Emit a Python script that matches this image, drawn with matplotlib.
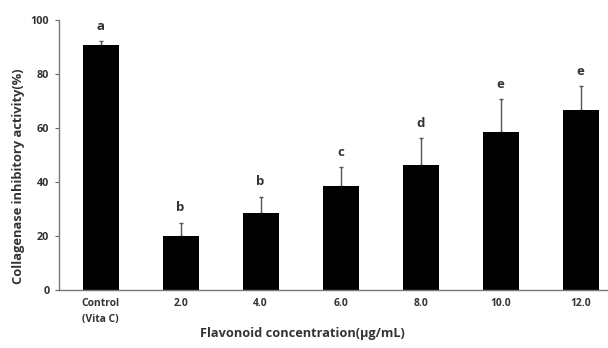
import matplotlib
matplotlib.use("Agg")
import matplotlib.pyplot as plt
import numpy as np

categories = ["Control\n(Vita C)", "2.0", "4.0", "6.0", "8.0", "10.0", "12.0"]
activity = [90.7, 20.0, 28.4, 38.5, 46.2, 58.6, 66.7]
sd = [1.5, 5.0, 6.2, 7.2, 10.0, 12.0, 9.0]
letters = ["a", "b", "b", "c", "d", "e", "e"]
yticks = [0, 20, 40, 60, 80, 100]

plt.rcParams["font.family"] = ["Open Sans", "DejaVu Sans"]
TXT = "#333333"

fig = plt.figure(figsize=(6.08, 3.48), dpi=100)
ax = fig.add_axes([59 / 608, 1 - 290 / 348, 1 - 59 / 608, 270 / 348])

x = np.arange(len(categories))
ax.bar(x, activity, width=0.45, color="black", zorder=2)
ax.errorbar(x, activity, yerr=[np.zeros(len(sd)), sd], fmt="none",
            ecolor="#555555", elinewidth=1.0, capsize=1.2, capthick=1.0, zorder=1)

for xi, v, e, lab in zip(x, activity, sd, letters):
    ax.text(xi, v + e + 3.0, lab, ha="center", va="bottom",
            fontsize=9.5, fontweight="bold", color=TXT)

ax.set_xlim(-0.52, 6.34)
ax.set_ylim(0, 100)
ax.set_yticks(yticks)
ax.set_xticks(x)
ax.set_xticklabels(categories, fontsize=7.4, fontweight="bold", color=TXT,
                   linespacing=1.55, va="top")
ax.tick_params(axis="x", length=0, pad=6)
ax.tick_params(axis="y", direction="out", length=3, width=0.8, color="#666666",
               labelsize=7.8, pad=4)
for lbl in ax.get_yticklabels():
    lbl.set_fontweight("bold")
    lbl.set_color(TXT)

for side in ["top", "right"]:
    ax.spines[side].set_visible(False)
for side in ["left", "bottom"]:
    ax.spines[side].set_color("#777777")
    ax.spines[side].set_linewidth(1.0)

ax.set_ylabel("Collagenase inhibitory activity(%)", fontsize=9.3, fontweight="bold",
              color=TXT)
ax.yaxis.set_label_coords(-(59 - 19) / 549, (290 - 176) / 270)
ax.set_xlabel("Flavonoid concentration(\u03bcg/mL)", fontsize=9.2, fontweight="bold",
              color=TXT)
ax.xaxis.set_label_coords((302 - 59) / 549, -(334 - 290) / 270)
ax.xaxis.label.set_va("center")
ax.yaxis.label.set_va("center")

fig.savefig("out.png", dpi=100, facecolor="white")
